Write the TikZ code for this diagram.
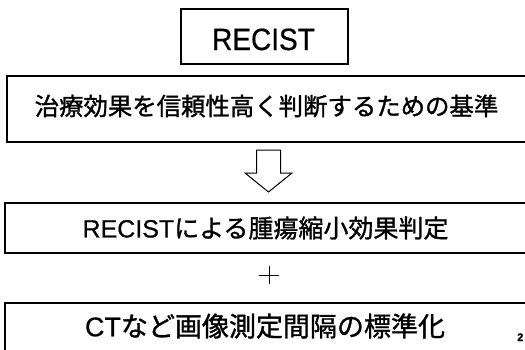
\documentclass[tikz,border=0pt]{standalone}
\usepackage{fontspec}
\newfontfamily\jp[FakeBold=1.2]{Noto Sans CJK JP}
\newfontfamily\ar[FakeBold=0.6]{Liberation Sans}
\begin{document}
\begin{tikzpicture}[x=1pt,y=-1pt,
  box/.style={draw=black,line width=1.6pt,inner sep=0pt,anchor=north west},
  txt/.style={inner sep=0pt,anchor=center,text=black},
  shape line/.style={draw=black,line width=1pt}]
\useasboundingbox (0,0) rectangle (525,349);
\clip (0,0) rectangle (525,349);
% title
\node[box,minimum width=167pt,minimum height=55pt] (title) at (180,8) {};
\node[inner sep=0pt,anchor=base] (titletext) at (263.5,50)
  {\ar\fontsize{28}{30}\selectfont\scalebox{1}[1.1]{RECIST}};
% box 1
\node[box,minimum width=540pt,minimum height=66pt] (b1) at (6,75) {};
\node[txt] (t1) at (266.5,106)
  {\jp\fontsize{24.4}{26}\selectfont 治療効果を信頼性高く判断するための基準};
% arrow
\coordinate (ar) at (268.5,150);
\draw[shape line] ([xshift=-12pt]ar) -- ([xshift=12pt]ar) -- ([xshift=12pt,yshift=-23pt]ar)
  -- ([xshift=23.5pt,yshift=-23pt]ar) -- ([yshift=-42pt]ar) -- ([xshift=-23.5pt,yshift=-23pt]ar)
  -- ([xshift=-12pt,yshift=-23pt]ar) -- cycle;
% box 2
\node[box,minimum width=540pt,minimum height=50pt] (b2) at (4,202) {};
\node[txt] (t2) at (265.5,228)
  {\fontsize{25}{27}\selectfont{\ar RECIST}{\jp による腫瘍縮小効果判定}};
% plus
\coordinate (pl) at (269,275);
\draw[line width=1pt] ([xshift=-10pt]pl) -- ([xshift=10pt]pl);
\draw[line width=1pt] ([yshift=-9pt]pl) -- ([yshift=9pt]pl);
% box 3
\node[box,minimum width=540pt,minimum height=70pt] (b3) at (4,302) {};
\node[txt] (t3) at (265,326)
  {\fontsize{27}{29}\selectfont{\ar CT}{\jp など画像測定間隔の標準化}};
% page number
\node[inner sep=0pt,anchor=base west] (pg) at (517,341) {\ar\bfseries\fontsize{11}{12}\selectfont 2};
\end{tikzpicture}
\end{document}
